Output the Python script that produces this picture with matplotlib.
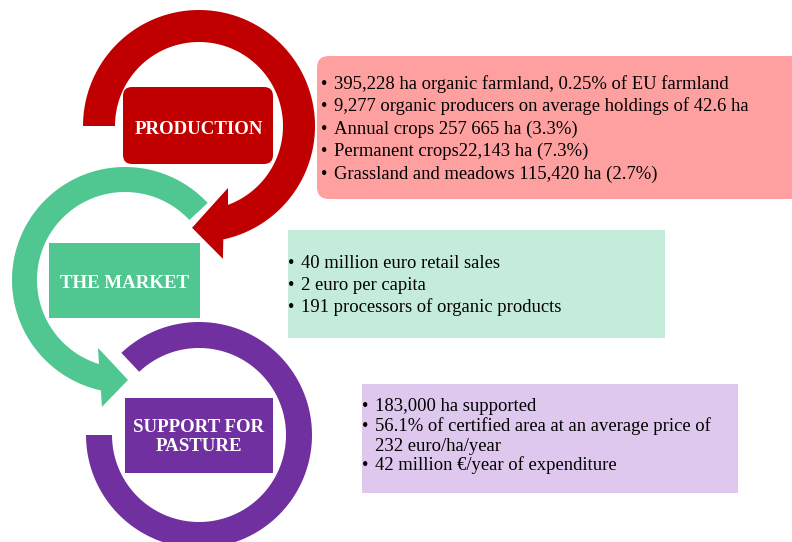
import numpy as np
import matplotlib
matplotlib.use("Agg")
import matplotlib.pyplot as plt
from matplotlib.patches import Polygon, FancyBboxPatch, Rectangle

# --- contenuti ---
STAGES = ["PRODUCTION", "THE MARKET", "SUPPORT FOR\nPASTURE"]
STAGE_COLORS = ["#C00000", "#50C690", "#7030A0"]
INFO_COLORS = ["#FFA0A0", "#C5ECDA", "#DFC8EE"]

PROD_LINES = ["395,228 ha organic farmland, 0.25% of EU farmland",
              "9,277 organic producers on average holdings of 42.6 ha",
              "Annual crops 257 665 ha (3.3%)",
              "Permanent crops22,143 ha (7.3%)",
              "Grassland and meadows 115,420 ha (2.7%)"]
MARKET_LINES = ["40 million euro retail sales",
                "2 euro per capita",
                "191 processors of organic products"]
PASTURE_LINES = ["183,000 ha supported",
                 "56.1% of certified area at an average price of",
                 "232 euro/ha/year",
                 "42 million \u20ac/year of expenditure"]
PASTURE_BULLET = [True, True, False, True]

SERIF = ["Liberation Serif", "DejaVu Serif"]
W, H = 792, 542
FS = 13.4   # testo dei riquadri informativi


def arc(cx, cy, r, a0, a1, n=200):
    t = np.radians(np.linspace(a0, a1, n))
    return np.column_stack([cx + r * np.cos(t), cy - r * np.sin(t)])


def pt(cx, cy, r, a):
    a = np.radians(a)
    return [cx + r * np.cos(a), cy - r * np.sin(a)]


def ring(ax, cx, cy, r_in, r_out, a0, a1, color, head=None):
    if head is None:
        pts = np.vstack([arc(cx, cy, r_out, a0, a1), arc(cx, cy, r_in, a1, a0)])
    else:
        out_end, (rb_o, ab_o), (rt, at), (rb_i, ab_i), in_end = head
        pts = np.vstack([arc(cx, cy, r_out, a0, out_end),
                         [pt(cx, cy, rb_o, ab_o)],
                         [pt(cx, cy, rt, at)],
                         [pt(cx, cy, rb_i, ab_i)],
                         arc(cx, cy, r_in, in_end, a0)])
    ax.add_patch(Polygon(pts, closed=True, fc=color, ec="none", zorder=1))


fig = plt.figure(figsize=(W / 100, H / 100), dpi=100)
ax = fig.add_axes([0, 0, 1, 1])
ax.set_xlim(0, W); ax.set_ylim(H, 0); ax.axis("off")

# frecce circolari
ring(ax, 199, 126, 84, 116, 180, -78, STAGE_COLORS[0],
     head=(-77.9, (135, -79.8), (102, -93.9), (68.4, -64.9), -69.8))
ring(ax, 125, 280, 88, 113, 43, 257.7, STAGE_COLORS[1],
     head=(257.7, (129, 259.7), (100, 271.7), (73, 248.3), 252.8))
ring(ax, 199, 435, 87, 113, 133.4, -180, STAGE_COLORS[2])

# riquadri delle fasi
ax.add_patch(FancyBboxPatch((127, 91), 142, 69, boxstyle="round,pad=4,rounding_size=9",
                            fc=STAGE_COLORS[0], ec="none", zorder=2))
ax.add_patch(Rectangle((49, 243), 151, 75, fc=STAGE_COLORS[1], ec="none", zorder=2))
ax.add_patch(Rectangle((125, 398), 148, 75, fc=STAGE_COLORS[2], ec="none", zorder=2))
for (x, y), s in zip([(199, 129), (125, 283), (199, 437)], STAGES):
    ax.text(x, y, s, color="white", fontsize=13.6, fontweight="bold", family=SERIF,
            ha="center", va="center", linespacing=1.12, zorder=3)

# riquadri informativi
ax.add_patch(FancyBboxPatch((329, 68), 470, 119, boxstyle="round,pad=12,rounding_size=12",
                            fc=INFO_COLORS[0], ec="none", zorder=2))
ax.add_patch(Rectangle((288, 230), 377, 108, fc=INFO_COLORS[1], ec="none", zorder=2))
ax.add_patch(Rectangle((362, 384), 376, 109, fc=INFO_COLORS[2], ec="none", zorder=2))


def bullets(lines, x_b, x_t, y0, dy, flags=None):
    flags = flags or [True] * len(lines)
    for i, (s, f) in enumerate(zip(lines, flags)):
        y = y0 + i * dy
        if f:
            ax.text(x_b, y, "\u2022", fontsize=FS, family=SERIF, va="baseline", zorder=3)
        ax.text(x_t, y, s, fontsize=FS, family=SERIF, va="baseline", zorder=3)


bullets(PROD_LINES, 321, 334, 89, 22.4)
bullets(MARKET_LINES, 288, 301, 267.5, 22.3)
bullets(PASTURE_LINES, 362, 375, 411, 19.8, PASTURE_BULLET)

fig.savefig("out.png", dpi=100)
